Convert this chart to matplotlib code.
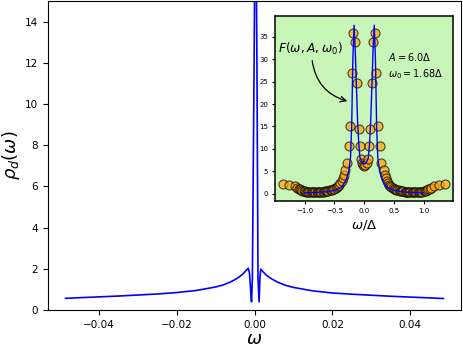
import matplotlib.pyplot as plt

# main curve rho_d(omega)
w_main = [-0.0485, -0.045, -0.04, -0.035, -0.03, -0.025, -0.02, -0.015, -0.01, -0.008,
          -0.006, -0.005, -0.004, -0.003, -0.0025, -0.002, -0.0016, -0.0013, -0.001,
          -0.00077, -0.00055, -0.0001, 0.00025, 0.00062, 0.0009, 0.00118,
          0.0014, 0.0016, 0.002, 0.0025, 0.003, 0.004, 0.005, 0.006, 0.008, 0.01,
          0.015, 0.02, 0.025, 0.03, 0.035, 0.04, 0.045, 0.0485]
rho_main = [0.57, 0.6, 0.64, 0.68, 0.73, 0.78, 0.85, 0.95, 1.12, 1.22,
            1.38, 1.48, 1.6, 1.75, 1.85, 1.95, 2.03, 1.8, 1.0,
            0.4, 1.5, 12.0, 22.0, 12.0, 1.5, 0.4,
            1.6, 1.98, 1.9, 1.8, 1.7, 1.56, 1.45, 1.35, 1.2, 1.1,
            0.93, 0.83, 0.77, 0.72, 0.67, 0.63, 0.59, 0.56]

# inset: fitted F(w, A, w0)
w_fit = [-1.0, -0.9, -0.8, -0.7, -0.6, -0.5, -0.4, -0.35, -0.3, -0.26, -0.23, -0.21,
         -0.19, -0.17, -0.15, -0.13, -0.11, -0.09, -0.07, -0.04, 0.0,
         0.04, 0.07, 0.09, 0.11, 0.13, 0.15, 0.17, 0.19, 0.21, 0.23, 0.26, 0.3,
         0.35, 0.4, 0.5, 0.6, 0.7, 0.8, 0.9, 1.0]
F_fit = [0.2, 0.22, 0.28, 0.35, 0.5, 0.75, 1.3, 2.0, 3.2, 5.0, 8.0, 15.0,
         30.0, 37.6, 32.0, 24.0, 16.0, 11.0, 8.0, 7.0, 6.6,
         7.0, 8.0, 11.0, 16.0, 24.0, 32.0, 37.6, 30.0, 15.0, 8.0, 5.0, 3.2,
         2.0, 1.3, 0.75, 0.5, 0.35, 0.28, 0.22, 0.2]

# inset: data points, central part
w_core = [-0.345, -0.33, -0.29, -0.26, -0.232, -0.205, -0.185, -0.15, -0.125, -0.095,
          -0.075, -0.06, -0.04, -0.02, 0.0,
          0.02, 0.04, 0.06, 0.075, 0.095, 0.125, 0.15, 0.185, 0.205, 0.232, 0.26,
          0.29, 0.33, 0.345]
F_core = [4.2, 5.3, 6.8, 10.7, 15.1, 26.9, 35.8, 33.9, 24.7, 14.4,
          10.7, 7.7, 6.9, 6.5, 6.1,
          6.5, 6.9, 7.7, 10.7, 14.4, 24.7, 33.9, 35.8, 26.9, 15.1, 10.7,
          6.8, 5.3, 4.2]

# inset: data points, dense tails
w_tail_l = [-1.37, -1.26, -1.17, -1.13, -1.10, -1.08, -1.06, -1.04, -1.02, -1.00,
            -0.98, -0.96, -0.94, -0.92, -0.90, -0.88, -0.86, -0.84, -0.82, -0.80,
            -0.78, -0.76, -0.74, -0.72, -0.70, -0.68, -0.66, -0.64, -0.62, -0.60,
            -0.58, -0.56, -0.54, -0.52, -0.50, -0.48, -0.46, -0.44, -0.42, -0.40,
            -0.38, -0.36]
F_tail_l = [2.2, 2.0, 1.6, 1.3, 1.1, 0.95, 0.8, 0.7, 0.6, 0.52,
            0.47, 0.43, 0.4, 0.37, 0.35, 0.34, 0.33, 0.33, 0.34, 0.35,
            0.36, 0.38, 0.4, 0.42, 0.45, 0.48, 0.52, 0.57, 0.62, 0.68,
            0.75, 0.82, 0.9, 1.0, 1.15, 1.3, 1.5, 1.7, 1.95, 2.3,
            2.8, 3.5]
w_tail_r = [0.36, 0.38, 0.40, 0.42, 0.44, 0.46, 0.48, 0.50, 0.52, 0.54,
            0.56, 0.58, 0.60, 0.62, 0.64, 0.66, 0.68, 0.70, 0.72, 0.74,
            0.76, 0.78, 0.80, 0.82, 0.84, 0.86, 0.88, 0.90, 0.92, 0.94,
            0.96, 0.98, 1.00, 1.02, 1.04, 1.06, 1.08, 1.10, 1.13, 1.17,
            1.26, 1.36]
F_tail_r = [3.5, 2.8, 2.3, 1.95, 1.7, 1.5, 1.3, 1.15, 1.0, 0.9,
            0.82, 0.75, 0.68, 0.62, 0.57, 0.52, 0.48, 0.45, 0.42, 0.4,
            0.38, 0.36, 0.35, 0.34, 0.33, 0.33, 0.34, 0.35, 0.37, 0.4,
            0.43, 0.47, 0.52, 0.6, 0.7, 0.8, 0.95, 1.1, 1.3, 1.6,
            2.0, 2.15]

w_pts = w_tail_l + w_core + w_tail_r
F_pts = F_tail_l + F_core + F_tail_r

fig = plt.figure(figsize=(4.63, 3.48), dpi=100)
ax = fig.add_axes([0.1037, 0.109, 0.892, 0.888])
ax.plot(w_main, rho_main, color="blue", lw=1.2)
ax.set_xlim(-0.053, 0.053)
ax.set_ylim(0, 15)
ax.set_xticks([-0.04, -0.02, 0.0, 0.02, 0.04])
ax.set_yticks([0, 2, 4, 6, 8, 10, 12, 14])
ax.tick_params(labelsize=7.5)
ax.set_xlabel(r"$\omega$", fontsize=13, labelpad=0)
ax.set_ylabel(r"$\rho_d(\omega)$", fontsize=13, labelpad=2)

# inset
ins = fig.add_axes([0.594, 0.4216, 0.385, 0.533])
ins.set_facecolor("#c8f5b8")
ins.scatter(w_pts, F_pts, s=42, facecolor="orange", edgecolor="k",
            linewidths=0.8, alpha=0.7, zorder=2)
ins.plot(w_fit, F_fit, color="blue", lw=1.0, zorder=3)
ins.set_xlim(-1.5, 1.5)
ins.set_ylim(-1.7, 39.7)
ins.set_xticks([-1.0, -0.5, 0.0, 0.5, 1.0])
ins.set_yticks([0, 5, 10, 15, 20, 25, 30, 35])
ins.tick_params(labelsize=5, length=2.5, pad=2.5)
for s in ins.spines.values():
    s.set_linewidth(1.1)
ins.set_xlabel(r"$\omega/\Delta$", fontsize=9.5, labelpad=3)

ins.annotate(r"$F(\omega,A,\omega_0)$", xy=(-0.24, 20.5), xytext=(-1.45, 32.3),
             fontsize=8.8, va="center", ha="left")
ins.annotate("", xy=(-0.24, 20.5), xytext=(-0.88, 30.3),
             arrowprops=dict(arrowstyle="->", color="k", lw=0.9,
                             connectionstyle="arc3,rad=0.35"))
ins.text(0.40, 30.6, r"$A = 6.0\Delta$", fontsize=7, va="center")
ins.text(0.40, 26.7, r"$\omega_0 = 1.68\Delta$", fontsize=7, va="center")

fig.savefig("out.png", dpi=100)
